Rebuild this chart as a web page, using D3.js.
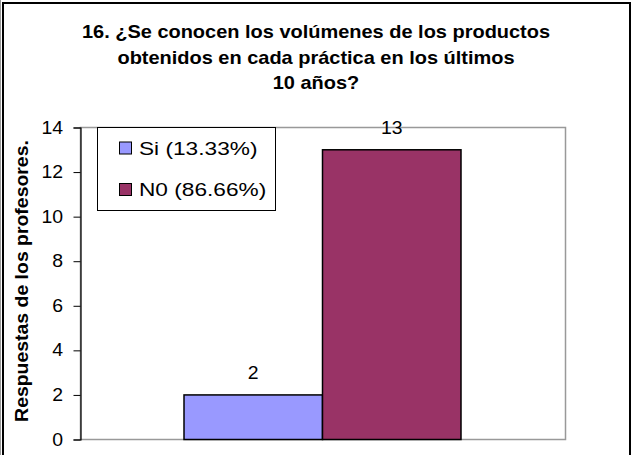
<!DOCTYPE html>
<html>
<head>
<meta charset="utf-8">
<script src="https://cdn.jsdelivr.net/npm/d3@7"></script>
<style>
  body { margin: 0; background: #fff; }
  svg { display: block; font-family: Arial, "Liberation Sans", sans-serif; }
</style>
</head>
<body>
<svg id="chart" width="632" height="455"></svg>
<script>
const categories = ["Si", "N0"];
const values = [2, 13];
const legendLabels = ["Si (13.33%)", "N0 (86.66%)"];
const yTicks = [0, 2, 4, 6, 8, 10, 12, 14];
const colors = ["#9999ff", "#993366"];
const titleLines = [
  "16. ¿Se conocen los volúmenes de los productos",
  "obtenidos en cada práctica en los últimos",
  "10 años?"
];
const yTitle = "Respuestas de los profesores.";

const svg = d3.select("#chart");
const plot = { left: 80.5, right: 565.5, top: 127.5, bottom: 439.5 };
const stretch = 1.11; // the original picture is a bit wider than tall

// outer frame
svg.append("line").attr("x1", 0.5).attr("x2", 0.5).attr("y1", 0).attr("y2", 455)
  .attr("stroke", "#999").attr("stroke-width", 1);
svg.append("rect").attr("x", 3).attr("y", 3).attr("width", 627).attr("height", 460)
  .attr("fill", "none").attr("stroke", "#000").attr("stroke-width", 2);

// title
svg.append("g").selectAll("text").data(titleLines).join("text")
  .attr("transform", (d, i) => `translate(316,${38 + i * 25.5}) scale(${stretch},1)`)
  .attr("text-anchor", "middle").attr("font-size", 18).attr("font-weight", "bold")
  .text(d => d);

const y = d3.scaleLinear().domain([0, 14]).range([plot.bottom, plot.top]);
const x = d3.scaleBand().domain(categories).range([184, 461]).padding(0);

// plot area border (grey)
svg.append("rect").attr("x", plot.left).attr("y", plot.top)
  .attr("width", plot.right - plot.left).attr("height", plot.bottom - plot.top)
  .attr("fill", "none").attr("stroke", "#999").attr("stroke-width", 1.5);

// bars
svg.append("g").selectAll("rect").data(values).join("rect")
  .attr("x", (d, i) => x(categories[i]))
  .attr("y", d => y(d))
  .attr("width", x.bandwidth())
  .attr("height", d => y(0) - y(d))
  .attr("fill", (d, i) => colors[i])
  .attr("stroke", "#000").attr("stroke-width", 1.5);

// value labels
svg.append("g").selectAll("text").data(values).join("text")
  .attr("transform", (d, i) => `translate(${x(categories[i]) + x.bandwidth() / 2},${y(d) - 16}) scale(${stretch},1)`)
  .attr("text-anchor", "middle").attr("font-size", 17.5)
  .text(d => d);

// y axis
const yAxis = svg.append("g").attr("transform", `translate(${plot.left},0)`)
  .call(d3.axisLeft(y).tickValues(yTicks).tickSize(7).tickPadding(10));
yAxis.select(".domain").attr("stroke", "#000").attr("stroke-width", 1.2);
yAxis.selectAll(".tick line").attr("stroke", "#000");
yAxis.selectAll(".tick text")
  .attr("font-size", 17.5).attr("font-family", "Arial, 'Liberation Sans', sans-serif")
  .attr("fill", "#000")
  .attr("x", -17.5 / stretch)
  .attr("transform", `scale(${stretch},1)`);

// y axis title
svg.append("text")
  .attr("transform", "translate(28,281) rotate(-90) scale(1.08,1)")
  .attr("text-anchor", "middle").attr("font-size", 18).attr("font-weight", "bold")
  .text(yTitle);

// legend
const legend = svg.append("g");
legend.append("rect").attr("x", 97.5).attr("y", 127.5).attr("width", 178).attr("height", 83)
  .attr("fill", "#fff").attr("stroke", "#000").attr("stroke-width", 1);
const items = legend.selectAll("g.item").data(legendLabels).join("g")
  .attr("class", "item")
  .attr("transform", (d, i) => `translate(119,${148 + i * 41.5})`);
items.append("rect").attr("x", 0.5).attr("y", -6).attr("width", 12).attr("height", 12)
  .attr("fill", (d, i) => colors[i]).attr("stroke", "#000").attr("stroke-width", 1);
items.append("text")
  .attr("transform", "translate(20,6.5) scale(1.26,1)")
  .attr("font-size", 18).text(d => d);
</script>
</body>
</html>
